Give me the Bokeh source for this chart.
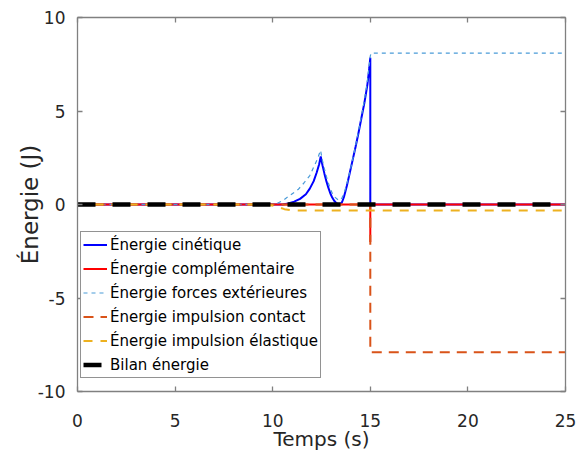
import math
from bokeh.plotting import figure
from bokeh.models import (LinearAxis, FixedTicker, Range1d, Legend, LegendItem,
                          CustomJSTickFormatter)
from bokeh.embed import file_html
from bokeh.resources import INLINE

# ---------------- data ----------------
x_ticks = [0, 5, 10, 15, 20, 25]
y_ticks = [-10, -5, 0, 5, 10]
y_tick_labels = {-10: "-10", -5: "-5", 0: "0", 5: "5", 10: "10"}

t_kin = [0, 10.5, 10.8, 11.1, 11.4, 11.7, 11.9, 12.1, 12.25, 12.38, 12.46,
         12.55, 12.65, 12.75, 12.85, 12.95, 13.05, 13.15, 13.25, 13.35, 13.45,
         13.55, 13.65, 13.8, 13.95, 14.1, 14.25, 14.4, 14.55, 14.7, 14.85, 14.95, 15.0, 15.0, 25]
e_kin = [0, 0, 0.05, 0.15, 0.3, 0.55, 0.85, 1.25, 1.7, 2.15, 2.57,
         2.1, 1.65, 1.25, 0.9, 0.6, 0.37, 0.2, 0.08, 0.02, 0.0,
         0.12, 0.4, 1.0, 1.7, 2.4, 3.1, 3.85, 4.65, 5.45, 6.4, 7.3, 7.85, 0, 0]

t_comp = [0, 15, 15, 15, 25]
e_comp = [0, 0, -2.0, 0, 0]

t_ext = [0, 9.9, 10.2, 10.5, 10.9, 11.3, 11.6, 11.9, 12.1, 12.3, 12.45,
         12.55, 12.65, 12.75, 12.85, 12.95, 13.05, 13.2, 13.35, 13.45,
         13.55, 13.7, 13.85, 14.0, 14.2, 14.45, 14.7, 14.85, 15.0, 15.05, 25]
e_ext = [0, 0, 0.05, 0.2, 0.5, 0.8, 1.15, 1.55, 2.0, 2.45, 2.9,
         2.35, 1.9, 1.5, 1.15, 0.85, 0.6, 0.38, 0.25, 0.22,
         0.35, 0.75, 1.3, 1.95, 2.9, 4.2, 5.6, 6.6, 7.95, 8.1, 8.1]

t_contact = [0, 15, 15, 25]
e_contact = [0, 0, -7.9, -7.9]

t_elast = [0, 9.7, 10.2, 10.6, 11.0, 25]
e_elast = [0, 0, -0.1, -0.25, -0.32, -0.32]

t_bilan = [0, 25]
e_bilan = [0, 0]

labels = ["Énergie cinétique", "Énergie complémentaire", "Énergie forces extérieures",
          "Énergie impulsion contact", "Énergie impulsion élastique", "Bilan énergie"]

# ---------------- figure ----------------
GRAY = "#808080"
TXT = "#262626"

p = figure(frame_width=488, frame_height=374,
           x_range=Range1d(0, 25), y_range=Range1d(-10, 10),
           output_backend="svg", toolbar_location=None,
           min_border_left=77, min_border_right=12, min_border_top=17, min_border_bottom=60)
p.grid.visible = False
p.outline_line_color = None
p.background_fill_color = "white"
p.border_fill_color = "white"

def style_axis(ax, ticks, show_labels=True):
    ax.ticker = FixedTicker(ticks=ticks)
    ax.major_tick_in = 5
    ax.major_tick_out = 0
    ax.minor_tick_line_color = None
    ax.axis_line_color = GRAY
    ax.axis_line_width = 1.3
    ax.major_tick_line_color = GRAY
    ax.major_tick_line_width = 1.3
    if show_labels:
        ax.major_label_text_font = "DejaVu Sans"
        ax.major_label_text_font_size = "17px"
        ax.major_label_text_color = TXT
    else:
        ax.formatter = CustomJSTickFormatter(code="return ''")
        ax.major_label_text_font_size = "1px"
        ax.major_label_standoff = 0

style_axis(p.xaxis[0], x_ticks)
style_axis(p.yaxis[0], y_ticks)
p.yaxis[0].major_label_overrides = y_tick_labels
p.xaxis[0].major_label_standoff = 22
p.yaxis[0].major_label_standoff = 12
p.xaxis[0].axis_label = "Temps (s)"
p.xaxis[0].axis_label_text_font = "DejaVu Sans"
p.xaxis[0].axis_label_text_font_size = "20px"
p.xaxis[0].axis_label_text_font_style = "normal"
p.xaxis[0].axis_label_text_color = TXT
p.xaxis[0].axis_label_standoff = -3

p.yaxis[0].axis_label = "Énergie (J)"
p.yaxis[0].axis_label_text_font = "DejaVu Sans"
p.yaxis[0].axis_label_text_font_size = "23px"
p.yaxis[0].axis_label_text_font_style = "normal"
p.yaxis[0].axis_label_text_color = TXT
p.yaxis[0].axis_label_standoff = -8

top = LinearAxis()
style_axis(top, x_ticks, False)
p.add_layout(top, "above")
right = LinearAxis()
style_axis(right, y_ticks, False)
p.add_layout(right, "right")

# ---------------- lines ----------------
r1 = p.line(t_kin, e_kin, line_color="#0000FF", line_width=2)
r2 = p.line(t_comp, e_comp, line_color="#FF0000", line_width=2)
r3 = p.line(t_ext, e_ext, line_color="#4A9BD8", line_width=1.2, line_dash="4 4")
r4 = p.line(t_contact, e_contact, line_color="#D95319", line_width=2, line_dash="10 7")
r5 = p.line(t_elast, e_elast, line_color="#EDB120", line_width=2, line_dash="9 8")
r6 = p.line(t_bilan, e_bilan, line_color="#000000", line_width=4.5, line_dash="18 17")

legend = Legend(items=[LegendItem(label=l, renderers=[r])
                       for l, r in zip(labels, [r1, r2, r3, r4, r5, r6])],
                location=(3, 13))
legend.border_line_color = TXT
legend.border_line_width = 1
legend.background_fill_color = "white"
legend.background_fill_alpha = 1
legend.label_text_font = "DejaVu Sans"
legend.label_text_font_size = "15px"
legend.label_text_color = "#000000"
legend.glyph_width = 24
legend.glyph_height = 21
legend.label_height = 21
legend.label_standoff = 3
legend.spacing = 3
legend.padding = 2
legend.margin = 0
p.add_layout(legend, "center")

open("out.html", "w").write(file_html(p, INLINE))
